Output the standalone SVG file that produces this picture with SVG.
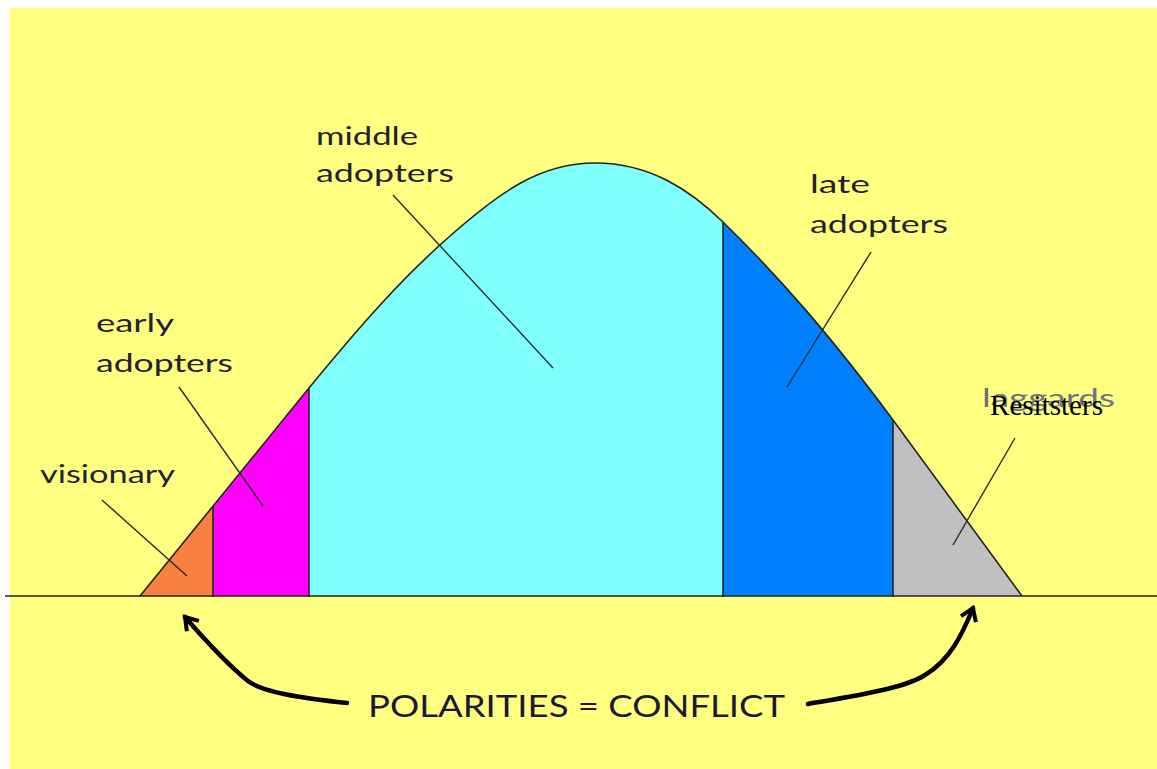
<svg xmlns="http://www.w3.org/2000/svg" width="1157" height="769" viewBox="0 0 1157 769">
  <style>
    .lbl { font-family: "Lato", "DejaVu Sans", sans-serif; font-size: 25px; fill: #222233; }
    .big { font-family: "Lato", "DejaVu Sans", sans-serif; font-size: 31px; fill: #1a1a33; }
    .lead { stroke: #2a2a2a; stroke-width: 1.4; fill: none; }
    .edge { stroke: #222222; stroke-width: 1.6; fill: none; }
    .arrow { stroke: #000000; stroke-width: 4.5; fill: none; stroke-linecap: round; marker-end: url(#head); }
  </style>
  <defs>
    <clipPath id="bell">
      <path d="M140,596 L309,388 C360,326 400,280 450,236 C500,192 540,163 595,163 C650,163 690,190 723,222 C780,278 830,335 893,420 L1022,596 Z"/>
    </clipPath>
    <marker id="head" viewBox="-14 -10 18 20" markerWidth="18" markerHeight="20" refX="0" refY="0" orient="auto" markerUnits="userSpaceOnUse">
      <path d="M-12,-8 L0,0 L-12,8" fill="none" stroke="#000" stroke-width="4" stroke-linejoin="miter"/>
    </marker>
  </defs>
  <rect x="0" y="0" width="1157" height="769" fill="#ffffff"/>
  <rect x="10" y="8" width="1147" height="761" fill="#ffff80"/>

  <g id="bands" clip-path="url(#bell)">
    <rect id="visionary-band" x="130" y="150" width="83" height="446" fill="#f88040"/>
    <rect id="early-band" x="213" y="150" width="96" height="446" fill="#ff00ff"/>
    <rect id="middle-band" x="309" y="150" width="414" height="446" fill="#80ffff"/>
    <rect id="late-band" x="723" y="150" width="170" height="446" fill="#0080ff"/>
    <rect id="laggard-band" x="893" y="150" width="140" height="446" fill="#c0c0c0"/>
  </g>

  <g id="curve">
    <path class="edge" d="M140,596 L309,388 C360,326 400,280 450,236 C500,192 540,163 595,163 C650,163 690,190 723,222 C780,278 830,335 893,420 L1022,596"/>
    <line class="edge" x1="213" y1="506" x2="213" y2="597"/>
    <line class="edge" x1="309" y1="388" x2="309" y2="597"/>
    <line class="edge" x1="723" y1="222" x2="723" y2="597"/>
    <line class="edge" x1="893" y1="420" x2="893" y2="597"/>
    <line class="edge" x1="5" y1="596" x2="1157" y2="596"/>
  </g>

  <g id="connectors">
    <line class="lead" x1="102" y1="500" x2="187" y2="576"/>
    <line class="lead" x1="179" y1="387" x2="263" y2="506"/>
    <line class="lead" x1="393" y1="195" x2="553" y2="368"/>
    <line class="lead" x1="871" y1="252" x2="787" y2="387"/>
    <line class="lead" x1="1015" y1="438" x2="953" y2="545"/>
    <path class="arrow" d="M347,703 C300,698 262,692 248,681 C228,665 205,640 185,617"/>
    <path class="arrow" d="M808,704 C860,695 905,688 925,675 C950,660 962,635 973,608"/>
  </g>

  <g id="node-visionary">
    <text class="lbl" x="40" y="483" textLength="135" lengthAdjust="spacingAndGlyphs">visionary</text>
  </g>
  <g id="node-early">
    <text class="lbl" x="96" y="332" textLength="78" lengthAdjust="spacingAndGlyphs">early</text>
    <text class="lbl" x="96" y="372" textLength="137" lengthAdjust="spacingAndGlyphs">adopters</text>
  </g>
  <g id="node-middle">
    <text class="lbl" x="316" y="145" textLength="102" lengthAdjust="spacingAndGlyphs">middle</text>
    <text class="lbl" x="316" y="182" textLength="138" lengthAdjust="spacingAndGlyphs">adopters</text>
  </g>
  <g id="node-late">
    <text class="lbl" x="810" y="193" textLength="60" lengthAdjust="spacingAndGlyphs">late</text>
    <text class="lbl" x="810" y="233" textLength="138" lengthAdjust="spacingAndGlyphs">adopters</text>
  </g>
  <g id="node-laggards">
    <text class="lbl" x="982" y="407" textLength="133" lengthAdjust="spacingAndGlyphs" style="fill:#707088">laggards</text>
    <text x="990" y="415" font-family="Liberation Serif, serif" font-size="29" fill="#000000" textLength="113" lengthAdjust="spacingAndGlyphs">Resitsters</text>
  </g>
  <g id="node-polarities">
    <text class="big" x="368" y="717" textLength="417" lengthAdjust="spacingAndGlyphs">POLARITIES = CONFLICT</text>
  </g>
</svg>
